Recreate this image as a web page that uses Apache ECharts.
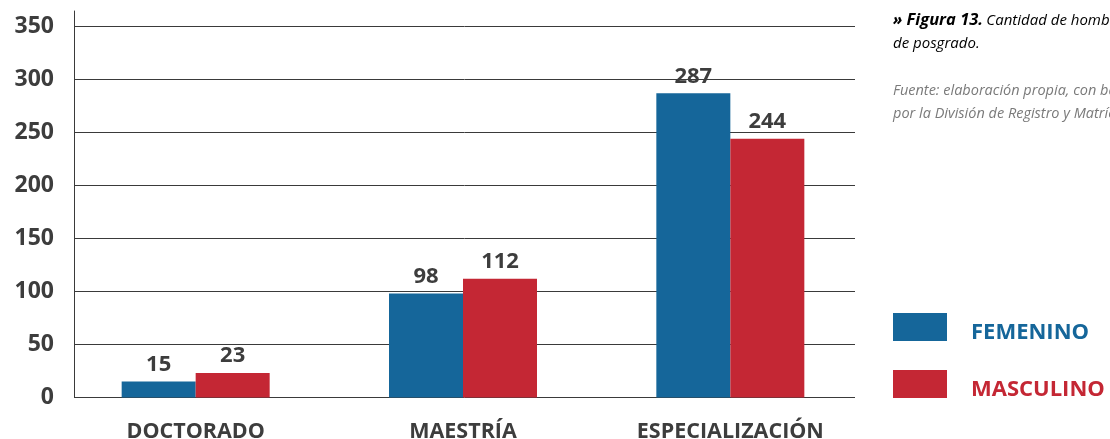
<!DOCTYPE html>
<html>
<head>
<meta charset="utf-8">
<script src="https://cdn.jsdelivr.net/npm/echarts@6/dist/echarts.min.js"></script>
<style>
html,body{margin:0;padding:0;background:#fff;}
#chart{width:1110px;height:439px;}
</style>
</head>
<body>
<div id="chart"></div>
<script>
var categories = ['DOCTORADO', 'MAESTRÍA', 'ESPECIALIZACIÓN'];
var femenino = [15, 98, 287];
var masculino = [23, 112, 244];
var seriesNames = ['FEMENINO', 'MASCULINO'];
var yTicks = [0, 50, 100, 150, 200, 250, 300, 350];

var BLUE = '#15669a', RED = '#c42734', DARK = '#3d3d3d';
var FONT = '"Open Sans", "Noto Sans", sans-serif';

var chart = echarts.init(document.getElementById('chart'), null, {renderer: 'canvas'});
var labelStyle = {show: true, position: 'top', distance: 6, color: DARK, fontWeight: 'bold', fontSize: 22, fontFamily: FONT};

chart.setOption({
  animation: false,
  backgroundColor: '#fff',
  grid: [
    {left: 74, width: 781, top: 26.5, bottom: 41.5, outerBoundsMode: 'none', containLabel: false},
    {left: 74, width: 781, top: 11, bottom: 41.5, outerBoundsMode: 'none', containLabel: false},
    {left: 62, width: 802, top: 26.5, bottom: 41.5, outerBoundsMode: 'none', containLabel: false}
  ],
  xAxis: [
    {gridIndex: 0, type: 'category', data: categories, show: false},
    {gridIndex: 1, type: 'category', data: categories, show: false},
    {gridIndex: 2, type: 'category', data: categories,
      axisLine: {show: false}, axisTick: {show: false},
      axisLabel: {margin: 23, color: DARK, fontWeight: 'bold', fontSize: 21.5, fontFamily: FONT}}
  ],
  yAxis: [
    {gridIndex: 0, type: 'value', min: yTicks[0], max: yTicks[yTicks.length - 1], interval: 50,
      axisLine: {show: false}, axisTick: {show: false},
      splitLine: {show: true, lineStyle: {color: '#3a3a3a', width: 1}},
      axisLabel: {margin: 20, color: DARK, fontWeight: 'bold', fontSize: 23, fontFamily: FONT}},
    {gridIndex: 1, type: 'value', min: 0, max: 363, position: 'left',
      axisLine: {show: true, lineStyle: {color: '#3a3a3a', width: 1}}, axisTick: {show: false},
      splitLine: {show: false}, axisLabel: {show: false}},
    {gridIndex: 2, type: 'value', min: yTicks[0], max: yTicks[yTicks.length - 1], interval: 50, show: false}
  ],
  legend: {
    orient: 'vertical', left: 893, top: 313, padding: 0, itemWidth: 54, itemHeight: 28, itemGap: 26,
    icon: 'rect', selectedMode: false,
    formatter: '{t|{name}}',
    textStyle: {fontWeight: 'bold', fontSize: 22, fontFamily: FONT,
      rich: {t: {fontWeight: 'bold', fontSize: 22, fontFamily: FONT, padding: [12, 0, 0, 19]}}},
    data: [
      {name: seriesNames[0], textStyle: {color: BLUE}},
      {name: seriesNames[1], textStyle: {color: RED}}
    ]
  },
  series: [
    {name: seriesNames[0], type: 'bar', xAxisIndex: 2, yAxisIndex: 2, data: femenino,
      barWidth: 74, barGap: '0%', itemStyle: {color: BLUE}, label: labelStyle},
    {name: seriesNames[1], type: 'bar', xAxisIndex: 2, yAxisIndex: 2, data: masculino,
      barWidth: 74, barGap: '0%', itemStyle: {color: RED}, label: labelStyle}
  ],
  graphic: [
    {type: 'text', left: 893, top: 9, style: {
      text: '{b|» Figura 13.} {i|Cantidad de hombres y mujeres}\n{i|de posgrado.}',
      lineHeight: 23,
      rich: {
        b: {fontFamily: FONT, fontStyle: 'italic', fontWeight: 'bold', fontSize: 16.5, color: '#333', lineHeight: 23},
        i: {fontFamily: FONT, fontStyle: 'italic', fontSize: 15, color: '#808080', lineHeight: 23}
      }}},
    {type: 'text', left: 893, top: 79, style: {
      text: 'Fuente: elaboración propia, con base en datos\npor la División de Registro y Matrícula.',
      fontFamily: '"Liberation Sans Narrow", "Open Sans", sans-serif', fontStyle: 'italic', fontSize: 14.5,
      lineHeight: 23, fill: '#7a7a7a'}}
  ]
});
</script>
</body>
</html>
